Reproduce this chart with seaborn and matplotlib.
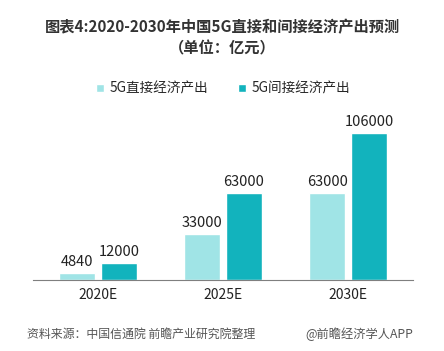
import pandas as pd
import seaborn as sns
import matplotlib.pyplot as plt

# Daten
jahre = ["2020E", "2025E", "2030E"]
direkt = [4840, 33000, 63000]
indirekt = [12000, 63000, 106000]
serien = ["5G直接经济产出", "5G间接经济产出"]
farben = ["#a0e4e6", "#12b3bd"]

df = pd.DataFrame({
    "Jahr": jahre * 2,
    "Wert": direkt + indirekt,
    "Serie": [serien[0]] * 3 + [serien[1]] * 3,
})

sns.set_style("white")
plt.rcParams["font.family"] = ["Noto Sans CJK SC", "DejaVu Sans"]

fig = plt.figure(figsize=(4.44, 3.51), dpi=100)
ax = fig.add_axes([33 / 444, 71 / 351, 380 / 444, 180 / 351])

sns.barplot(data=df, x="Jahr", y="Wert", hue="Serie", palette=farben,
            saturation=1, width=0.67, gap=0.12, ax=ax, legend=True)

for cont in ax.containers:
    ax.bar_label(cont, fmt="%d", padding=3, fontsize=10.5, color="#222222")

ax.set_ylim(0, 130000)
ax.set_xlim(-0.52, 2.52)
ax.set_xlabel("")
ax.set_ylabel("")
ax.set_yticks([])
for s in ["top", "left", "right"]:
    ax.spines[s].set_visible(False)
ax.spines["bottom"].set_color("#7f7f7f")
ax.tick_params(axis="x", length=0, labelsize=10, pad=6, colors="#222222")

ax.legend(loc="upper center", bbox_to_anchor=(0.5, 1.17), ncol=2, frameon=False,
          fontsize=9.8, handlelength=0.6, handleheight=0.6, handletextpad=0.4,
          columnspacing=2.2)

fig.text(0.5, 1 - 27 / 351, "图表4:2020-2030年中国5G直接和间接经济产出预测",
         ha="center", va="center", fontsize=11, fontweight="bold", color="#333333")
fig.text(0.5, 1 - 48 / 351, "（单位：亿元）",
         ha="center", va="center", fontsize=11, fontweight="bold", color="#333333")
fig.text(27 / 444, 1 - 334 / 351, "资料来源：中国信通院 前瞻产业研究院整理",
         ha="left", va="center", fontsize=8.6, style="italic", color="#555555")
fig.text(413 / 444, 1 - 334 / 351, "@前瞻经济学人APP",
         ha="right", va="center", fontsize=8.8, color="#555555")

fig.savefig("out.png", dpi=100, facecolor="white")
